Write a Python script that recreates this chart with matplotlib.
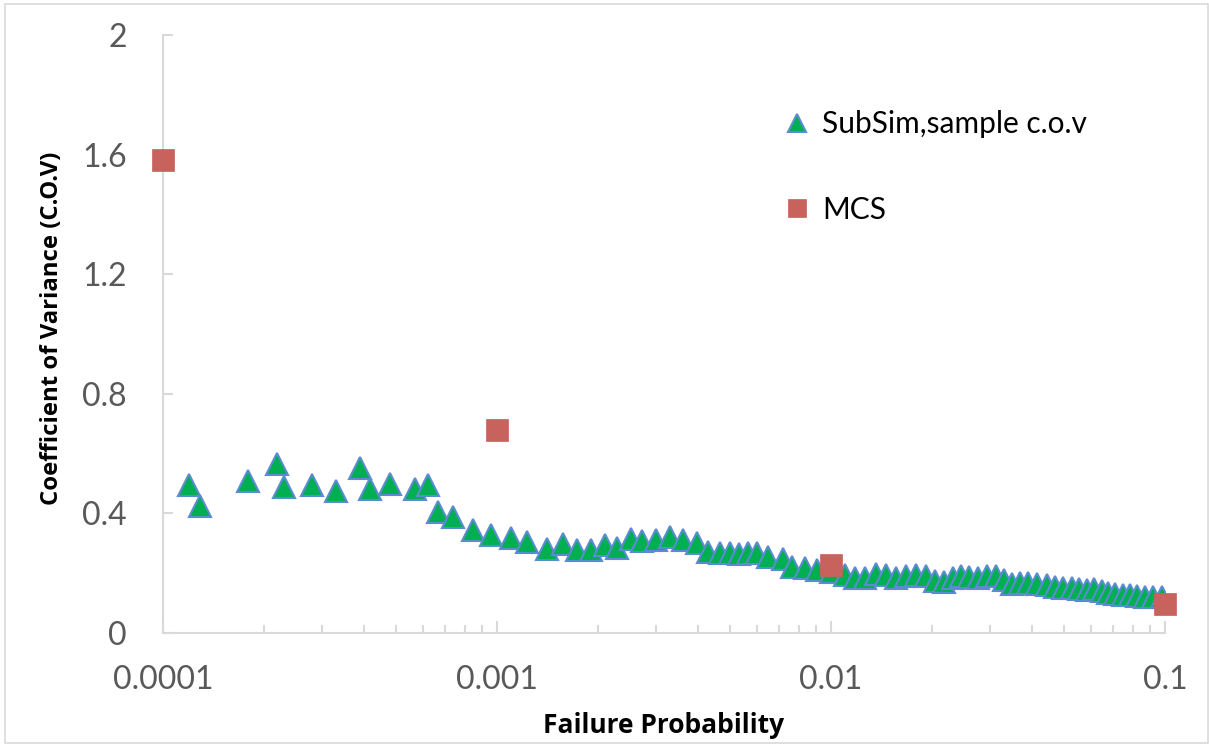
import matplotlib
matplotlib.use("Agg")
import matplotlib.pyplot as plt
from matplotlib.patches import Rectangle

plt.rcParams['font.family'] = ['Lato', 'DejaVu Sans']

# SubSim sample c.o.v
subsim_pf = [1.20e-4, 1.29e-4, 1.80e-4, 2.19e-4, 2.30e-4, 2.79e-4, 3.30e-4, 3.89e-4,
             4.17e-4, 4.78e-4, 5.68e-4, 6.21e-4, 6.66e-4, 7.39e-4, 8.48e-4, 9.6e-4,
             1.10e-3, 1.23e-3, 1.41e-3, 1.58e-3, 1.74e-3, 1.91e-3, 2.11e-3, 2.29e-3,
             2.52e-3, 2.72e-3, 2.99e-3, 3.30e-3, 3.61e-3, 3.97e-3, 4.28e-3, 4.65e-3,
             4.98e-3, 5.30e-3, 5.64e-3, 6.0e-3, 6.48e-3, 7.18e-3, 7.64e-3, 8.36e-3,
             9.08e-3, 1.00e-2, 1.10e-2, 1.18e-2, 1.26e-2, 1.36e-2, 1.46e-2, 1.57e-2,
             1.68e-2, 1.80e-2, 1.92e-2, 2.05e-2, 2.18e-2, 2.32e-2, 2.45e-2, 2.59e-2,
             2.75e-2, 2.93e-2, 3.12e-2, 3.30e-2, 3.48e-2, 3.68e-2, 3.89e-2, 4.14e-2,
             4.43e-2, 4.69e-2, 4.95e-2, 5.27e-2, 5.53e-2, 5.84e-2, 6.13e-2, 6.47e-2,
             6.75e-2, 7.08e-2, 7.48e-2, 7.85e-2, 8.24e-2, 8.71e-2, 9.2e-2, 9.8e-2]
subsim_cov = [0.495, 0.425, 0.508, 0.565, 0.488, 0.495, 0.475, 0.552,
              0.482, 0.498, 0.482, 0.495, 0.404, 0.388, 0.344, 0.328,
              0.318, 0.304, 0.281, 0.298, 0.278, 0.278, 0.294, 0.284,
              0.314, 0.308, 0.311, 0.321, 0.311, 0.301, 0.271, 0.268,
              0.268, 0.264, 0.268, 0.268, 0.254, 0.247, 0.221, 0.217,
              0.212, 0.205, 0.195, 0.183, 0.183, 0.197, 0.195, 0.183,
              0.192, 0.195, 0.189, 0.174, 0.172, 0.183, 0.189, 0.186,
              0.183, 0.189, 0.192, 0.178, 0.163, 0.167, 0.167, 0.164,
              0.161, 0.155, 0.152, 0.150, 0.148, 0.144, 0.148, 0.139,
              0.133, 0.130, 0.128, 0.128, 0.125, 0.122, 0.119, 0.122]

# MCS
mcs_pf = [1e-4, 1e-3, 1e-2, 1e-1]
mcs_cov = [1.582, 0.679, 0.227, 0.097]

x_ticks = [1e-4, 1e-3, 1e-2, 1e-1]
x_ticklabels = ["0.0001", "0.001", "0.01", "0.1"]
y_ticks = [0, 0.4, 0.8, 1.2, 1.6, 2.0]
y_ticklabels = ["0", "0.4", "0.8", "1.2", "1.6", "2"]

W, H = 1209, 744
fig = plt.figure(figsize=(W / 100, H / 100), dpi=100)
ax = fig.add_axes([163 / W, 1 - 633 / H, (1165 - 163) / W, (633 - 35) / H])

ax.plot(subsim_pf, subsim_cov, linestyle='none', marker='^', markersize=16,
        markerfacecolor='#00B050', markeredgecolor='#5B8BD0', markeredgewidth=1.5,
        label='SubSim,sample c.o.v', zorder=3)
ax.plot(mcs_pf, mcs_cov, linestyle='none', marker='s', markersize=16,
        markerfacecolor='#C8625C', markeredgecolor='#C8625C', markeredgewidth=0.5,
        label='MCS', zorder=4, clip_on=False)

ax.set_xscale('log')
ax.set_xlim(1e-4, 1e-1)
ax.set_ylim(0, 2)
ax.set_xticks(x_ticks)
ax.set_xticklabels(x_ticklabels)
ax.set_yticks(y_ticks)
ax.set_yticklabels(y_ticklabels)

grey = '#D9D9D9'
for s in ['top', 'right']:
    ax.spines[s].set_visible(False)
for s in ['left', 'bottom']:
    ax.spines[s].set_color(grey)
    ax.spines[s].set_linewidth(1.5)

ax.tick_params(axis='x', which='major', direction='in', length=9, width=1.5,
               color=grey, labelsize=23, labelcolor='#595959', pad=23)
ax.tick_params(axis='x', which='minor', direction='in', length=6, width=1.5, color=grey)
ax.tick_params(axis='y', which='major', direction='in', length=7, width=1.5,
               color=grey, labelsize=23, labelcolor='#595959', pad=26)

fig.text(52 / W, 1 - 328 / H, 'Coefficient of Variance (C.O.V)', rotation=90,
         ha='center', va='center', fontsize=17.2, fontweight='bold', color='black',
         family=['Open Sans', 'DejaVu Sans'])
fig.text(664 / W, 1 - 733 / H, 'Failure Probability', ha='center', va='baseline',
         fontsize=19, fontweight='bold', color='black',
         family=['Open Sans', 'DejaVu Sans'])

leg = ax.legend(loc='upper left', bbox_to_anchor=(782 / W, 1 - 110 / H),
                bbox_transform=fig.transFigure, frameon=False, fontsize=21.5,
                handlelength=1.0, handletextpad=0.35, labelspacing=1.94,
                markerscale=0.8, borderpad=0, borderaxespad=0)

fig.patches.append(Rectangle((5 / W, 1 / H), 1203 / W, 739 / H, transform=fig.transFigure,
                             fill=False, edgecolor=grey, linewidth=1.2))

fig.savefig('out.png', dpi=100)
